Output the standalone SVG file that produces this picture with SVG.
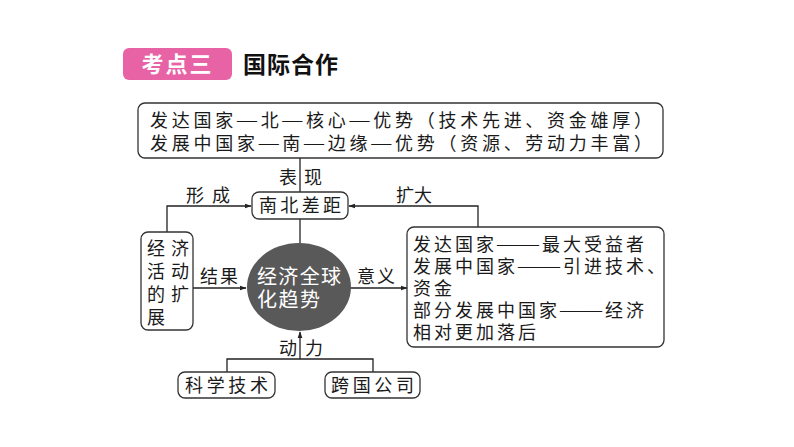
<svg xmlns="http://www.w3.org/2000/svg" width="794" height="447" viewBox="0 0 794 447">
<defs>
<style>
.t{font-family:"Noto Sans CJK SC","Noto Sans CJK TC",sans-serif;font-size:18px;fill:#1a1a1a}
.s{letter-spacing:3px}
.d{font-family:"Liberation Serif","Noto Sans CJK SC",serif;font-size:21px;letter-spacing:0}
.d1{font-family:"Liberation Serif","Noto Sans CJK SC",serif;font-size:20px}
.box{fill:#fff;stroke:#333;stroke-width:1.3}
.ln{fill:none;stroke:#222;stroke-width:1.3}
</style>
<marker id="ah" viewBox="0 0 10 10" refX="9" refY="5" markerWidth="7" markerHeight="7" orient="auto" markerUnits="userSpaceOnUse">
<path d="M0,1.5 L10,5 L0,8.5 z" fill="#222"/>
</marker>
</defs>
<rect width="794" height="447" fill="#fff"/>
<g id="title">
<rect x="123" y="48" width="109" height="32" rx="6" fill="#e862a6"/>
<text x="177.5" y="72" text-anchor="middle" style="font-family:'Noto Sans CJK SC',sans-serif;font-size:22px;font-weight:bold;fill:#fff;letter-spacing:2px">考点三</text>
<text x="243" y="73" style="font-family:'Noto Sans CJK SC',sans-serif;font-size:23px;font-weight:bold;fill:#111;letter-spacing:1px">国际合作</text>
</g>
<g id="connectors">
<line class="ln" x1="300" y1="158" x2="300" y2="192"/>
<polyline class="ln" points="167,232 167,206 251,206" marker-end="url(#ah)"/>
<polyline class="ln" points="478,227 478,206 349,206" marker-end="url(#ah)"/>
<line class="ln" x1="300" y1="219" x2="300" y2="244"/>
<line class="ln" x1="193" y1="288" x2="246" y2="288" marker-end="url(#ah)"/>
<line class="ln" x1="350" y1="288" x2="407" y2="288" marker-end="url(#ah)"/>
<polyline class="ln" points="227,372 227,359 373,359 373,372"/>
<line class="ln" x1="300" y1="359" x2="300" y2="332" marker-end="url(#ah)"/>
<text class="t" x="279" y="184">表</text>
<text class="t" x="304" y="184">现</text>
<text class="t" x="186" y="202" textLength="44" lengthAdjust="spacing">形成</text>
<text class="t" x="396" y="202" textLength="36" lengthAdjust="spacing">扩大</text>
<text class="t" x="200" y="283" textLength="38" lengthAdjust="spacing">结果</text>
<text class="t" x="357" y="283" textLength="38" lengthAdjust="spacing">意义</text>
<text class="t" x="279" y="355">动</text>
<text class="t" x="305" y="355">力</text>
</g>
<g id="top">
<rect class="box" x="138" y="103" width="525" height="55" rx="7"/>
<text class="t" x="150" y="127" textLength="502" lengthAdjust="spacing">发达国家<tspan class="d1">—</tspan>北<tspan class="d1">—</tspan>核心<tspan class="d1">—</tspan>优势（技术先进、资金雄厚）</text>
<text class="t" x="150" y="150" textLength="502" lengthAdjust="spacing">发展中国家<tspan class="d1">—</tspan>南<tspan class="d1">—</tspan>边缘<tspan class="d1">—</tspan>优势（资源、劳动力丰富）</text>
</g>
<g id="nanbei">
<rect class="box" x="252" y="192" width="96" height="27" rx="7"/>
<text class="t" x="259" y="212" textLength="82" lengthAdjust="spacing">南北差距</text>
</g>
<g id="kuozhan">
<rect class="box" x="141" y="232" width="52" height="98" rx="7"/>
<text class="t" x="147" y="255" textLength="42" lengthAdjust="spacing">经济</text>
<text class="t" x="147" y="278" textLength="42" lengthAdjust="spacing">活动</text>
<text class="t" x="147" y="301" textLength="42" lengthAdjust="spacing">的扩</text>
<text class="t" x="147" y="324">展</text>
</g>
<g id="globalization">
<ellipse cx="299" cy="287" rx="52" ry="44" fill="#595959"/>
<text class="t" x="257" y="284" style="font-size:20px;fill:#fff" textLength="84" lengthAdjust="spacing">经济全球</text>
<text class="t" x="257" y="307" style="font-size:20px;fill:#fff" textLength="63" lengthAdjust="spacing">化趋势</text>
</g>
<g id="meaning">
<rect class="box" x="407" y="227" width="257" height="120" rx="7"/>
<text class="t s" x="413" y="251">发达国家<tspan class="d">——</tspan><tspan dx="3">最大受益者</tspan></text>
<text class="t s" x="413" y="273">发展中国家<tspan class="d">——</tspan><tspan dx="3">引进技术、</tspan></text>
<text class="t s" x="413" y="295">资金</text>
<text class="t s" x="413" y="317">部分发展中国家<tspan class="d">——</tspan><tspan dx="3">经济</tspan></text>
<text class="t s" x="413" y="339">相对更加落后</text>
</g>
<g id="keji">
<rect class="box" x="178" y="372" width="97" height="26" rx="7"/>
<text class="t" x="185" y="392" textLength="83" lengthAdjust="spacing">科学技术</text>
</g>
<g id="kuaguo">
<rect class="box" x="325" y="372" width="95" height="26" rx="7"/>
<text class="t" x="331" y="392" textLength="83" lengthAdjust="spacing">跨国公司</text>
</g>
</svg>
